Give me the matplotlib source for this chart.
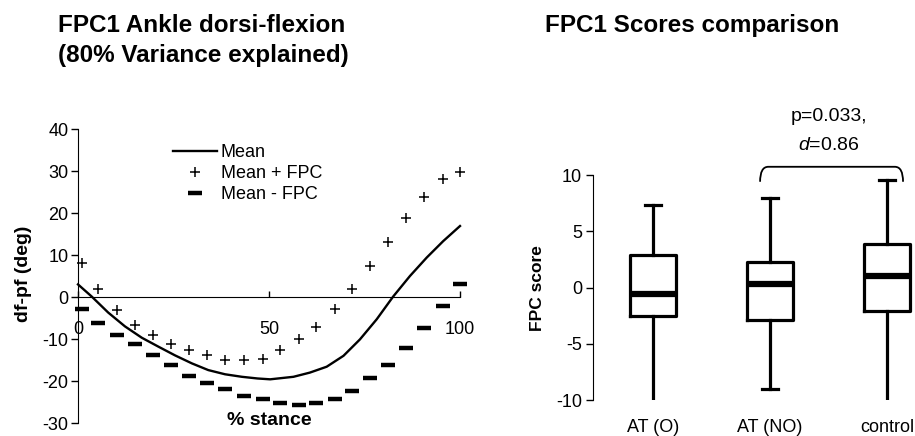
import matplotlib
matplotlib.use("Agg")
import matplotlib.pyplot as plt
from matplotlib.path import Path
from matplotlib.patches import PathPatch

plt.rcParams['font.family'] = ['Liberation Sans', 'DejaVu Sans']
plt.rcParams['mathtext.fontset'] = 'custom'
plt.rcParams['mathtext.rm'] = 'Liberation Sans'
plt.rcParams['mathtext.it'] = 'Liberation Sans:italic'
plt.rcParams['axes.unicode_minus'] = False

# --- left panel data: mean curve and mean +/- FPC1 (deg) ---
mean_x = [0, 3.6, 7.9, 12.3, 16.7, 21.0, 25.4, 29.8, 34.1, 38.5, 42.9, 47, 50.3,
          56.4, 60.7, 65.1, 69.5, 73.8, 78.2, 82.5, 86.9, 91.3, 95.6, 100]
mean_y = [3.0, 0.1, -3.7, -7.0, -9.7, -11.8, -13.9, -15.8, -17.4, -18.4, -19.0, -19.4, -19.6,
          -19.0, -18.0, -16.6, -14.0, -10.1, -5.3, 0.1, 5.0, 9.4, 13.3, 16.9]

fpc_x = [1, 5.2, 10.2, 14.8, 19.6, 24.3, 29.1, 33.8, 38.6, 43.4, 48.4,
         53, 57.8, 62.3, 67.2, 71.7, 76.5, 81.1, 85.9, 90.7, 95.5, 100]
plus_y = [8.0, 2.0, -3.2, -6.7, -9.1, -11.1, -12.6, -13.9, -15.0, -15.0, -14.7,
          -12.6, -10.1, -7.1, -2.9, 2.0, 7.5, 13.1, 18.7, 23.9, 28.0, 29.8]
minus_y = [-2.8, -6.1, -9.1, -11.3, -13.9, -16.3, -18.7, -20.4, -21.8, -23.6, -24.4,
           -25.2, -25.6, -25.2, -24.4, -22.4, -19.4, -16.3, -12.1, -7.3, -2.1, 3.0]

# --- right panel data: FPC1 scores per group ---
groups = ["AT (O)", "AT (NO)", "control"]
whisk_lo = [-10.2, -9.0, -10.5]
q1 = [-2.5, -2.9, -2.05]
median = [-0.55, 0.3, 1.0]
q3 = [2.85, 2.3, 3.9]
whisk_hi = [7.35, 8.0, 9.6]

fig = plt.figure(figsize=(9.15, 4.36), dpi=100)

# ---------------- left panel ----------------
ax1 = fig.add_axes([78 / 915, 13 / 436, 382 / 915, 294 / 436])
ax1.plot(mean_x, mean_y, color='black', lw=1.7, label='Mean', clip_on=False)
ax1.plot(fpc_x, plus_y, ls='none', marker='+', ms=7, mew=1.1, color='black',
         label='Mean + FPC', clip_on=False)
ax1.plot(fpc_x, minus_y, ls='none', marker='_', ms=9.5, mew=3.2, color='black',
         label='Mean - FPC', clip_on=False)

ax1.set_xlim(0, 100)
ax1.set_ylim(-30, 40)
ax1.spines['top'].set_visible(False)
ax1.spines['right'].set_visible(False)
ax1.spines['bottom'].set_position(('data', 0))
ax1.spines['bottom'].set_bounds(0, 100)
ax1.set_xticks([0, 50, 100])
ax1.set_yticks([40, 30, 20, 10, 0, -10, -20, -30])
ax1.tick_params(axis='y', direction='out', length=5, width=1, labelsize=13, pad=2)
ax1.tick_params(axis='x', direction='in', length=4, width=1, labelsize=13, pad=17)
ax1.text(50, -29.4, "% stance", ha='center', va='center', fontsize=14, fontweight='bold')
fig.text(24 / 915, 1 - 274 / 436, "df-pf (deg)", rotation=90, ha='center', va='center',
         fontsize=14, fontweight='bold')

ax1.legend(loc='upper left', bbox_to_anchor=(173 / 915, 1 - 144 / 436),
           bbox_transform=fig.transFigure, frameon=False, fontsize=13,
           handlelength=2.45, handletextpad=0.2, labelspacing=0.22,
           borderpad=0, borderaxespad=0, numpoints=1)

fig.text(58 / 915, 1 - 32 / 436, "FPC1 Ankle dorsi-flexion", fontsize=17.5,
         fontweight='bold', va='baseline')
fig.text(58 / 915, 1 - 62 / 436, "(80% Variance explained)", fontsize=17.5,
         fontweight='bold', va='baseline')

# ---------------- right panel ----------------
ax2 = fig.add_axes([593 / 915, 36 / 436, 322 / 915, 225 / 436])
stats = []
for g, lo, a, m, b, hi in zip(groups, whisk_lo, q1, median, q3, whisk_hi):
    stats.append(dict(label=g, whislo=lo, q1=a, med=m, q3=b, whishi=hi, fliers=[]))
ax2.bxp(stats, positions=[1, 2, 3], widths=0.385, capwidths=0.13, showfliers=False,
        boxprops=dict(lw=2.3, color='black'),
        medianprops=dict(lw=4.5, color='black'),
        whiskerprops=dict(lw=2.3, color='black'),
        capprops=dict(lw=2.3, color='black'))
ax2.set_xlim(0.487, 0.487 + 322 / 117)
ax2.set_ylim(-10, 10)
for s in ['top', 'right', 'bottom']:
    ax2.spines[s].set_visible(False)
ax2.set_yticks([10, 5, 0, -5, -10])
ax2.tick_params(axis='y', direction='out', length=5, width=1, labelsize=13, pad=3)
ax2.tick_params(axis='x', length=0, labelsize=13, pad=14)
fig.text(537 / 915, 1 - 288 / 436, "FPC score", rotation=90, ha='center', va='center',
         fontsize=12.5, fontweight='bold')

# significance bracket between AT (NO) and control
bx0, bx1, by_top, by_end, r = 1.915, 3.137, 10.73, 9.4, 0.07
verts = [(bx0, by_end), (bx0, by_top), (bx0 + r, by_top),
         (bx1 - r, by_top), (bx1, by_top), (bx1, by_end)]
codes = [Path.MOVETO, Path.CURVE3, Path.CURVE3, Path.LINETO, Path.CURVE3, Path.CURVE3]
ax2.add_patch(PathPatch(Path(verts, codes), fill=False, lw=1.3, color='black', clip_on=False))
ax2.text(2.5, 14.8, "p=0.033,", ha='center', va='baseline', fontsize=14)
ax2.text(2.5, 12.24, "$d$=0.86", ha='center', va='baseline', fontsize=14)

fig.text(545 / 915, 1 - 32 / 436, "FPC1 Scores comparison", fontsize=17.5,
         fontweight='bold', va='baseline')

fig.savefig("out.png", dpi=100)
